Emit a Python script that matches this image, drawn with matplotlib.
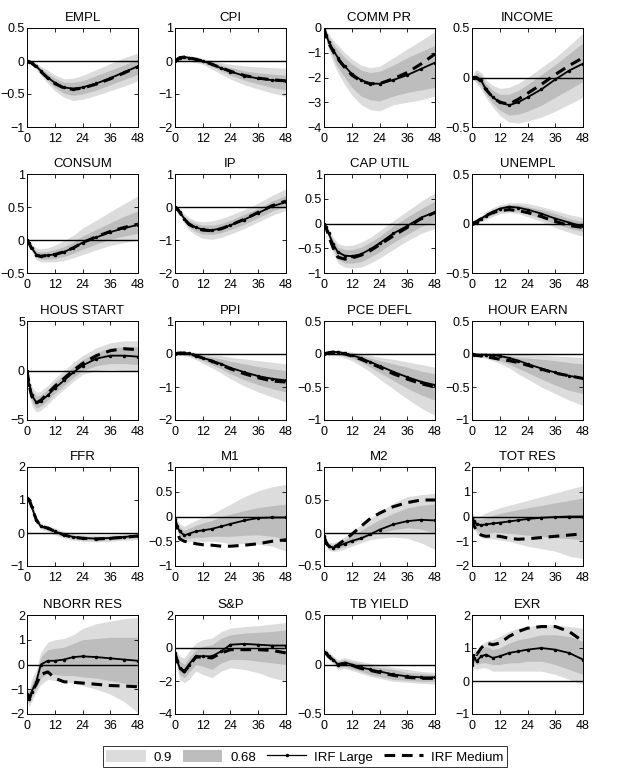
import numpy as np
import matplotlib
matplotlib.use("Agg")
import matplotlib.pyplot as plt
from matplotlib.patches import Patch
from matplotlib.lines import Line2D
from matplotlib.ticker import FuncFormatter

plt.rcParams['font.family'] = ['Liberation Sans', 'DejaVu Sans']

horizon = [0, 1, 2, 4, 6, 9, 12, 16, 20, 24, 30, 36, 42, 48]

names = ["EMPL", "CPI", "COMM PR", "INCOME",
         "CONSUM", "IP", "CAP UTIL", "UNEMPL",
         "HOUS START", "PPI", "PCE DEFL", "HOUR EARN",
         "FFR", "M1", "M2", "TOT RES",
         "NBORR RES", "S&P", "TB YIELD", "EXR"]

ylims = {
    "EMPL": (-1, 0.5), "CPI": (-2, 1), "COMM PR": (-4, 0), "INCOME": (-0.5, 0.5),
    "CONSUM": (-0.5, 1), "IP": (-2, 1), "CAP UTIL": (-1, 1), "UNEMPL": (-0.5, 0.5),
    "HOUS START": (-5, 5), "PPI": (-2, 1), "PCE DEFL": (-1, 0.5), "HOUR EARN": (-1, 0.5),
    "FFR": (-1, 2), "M1": (-1, 1), "M2": (-0.5, 1), "TOT RES": (-2, 2),
    "NBORR RES": (-2, 2), "S&P": (-4, 2), "TB YIELD": (-0.5, 0.5), "EXR": (-1, 2),
}

yticks = {
    "EMPL": [-1, -0.5, 0, 0.5], "CPI": [-2, -1, 0, 1], "COMM PR": [-4, -3, -2, -1, 0],
    "INCOME": [-0.5, 0, 0.5], "CONSUM": [-0.5, 0, 0.5, 1], "IP": [-2, -1, 0, 1],
    "CAP UTIL": [-1, -0.5, 0, 0.5, 1], "UNEMPL": [-0.5, 0, 0.5], "HOUS START": [-5, 0, 5],
    "PPI": [-2, -1, 0, 1], "PCE DEFL": [-1, -0.5, 0, 0.5], "HOUR EARN": [-1, -0.5, 0, 0.5],
    "FFR": [-1, 0, 1, 2], "M1": [-1, -0.5, 0, 0.5, 1], "M2": [-0.5, 0, 0.5, 1],
    "TOT RES": [-2, -1, 0, 1, 2], "NBORR RES": [-2, -1, 0, 1, 2], "S&P": [-4, -2, 0, 2],
    "TB YIELD": [-0.5, 0, 0.5], "EXR": [-1, 0, 1, 2],
}

irf_large = {
    "EMPL": [0, -0.01, -0.03, -0.08, -0.15, -0.25, -0.33, -0.40, -0.42, -0.40, -0.34, -0.26, -0.17, -0.08],
    "CPI": [0, 0.05, 0.1, 0.12, 0.1, 0.05, 0, -0.1, -0.22, -0.32, -0.45, -0.53, -0.58, -0.62],
    "COMM PR": [0, -0.3, -0.55, -0.9, -1.2, -1.55, -1.85, -2.1, -2.25, -2.25, -2.1, -1.9, -1.65, -1.4],
    "INCOME": [0, 0, 0, -0.03, -0.12, -0.2, -0.25, -0.28, -0.25, -0.2, -0.12, -0.02, 0.07, 0.14],
    "CONSUM": [0, -0.05, -0.12, -0.22, -0.24, -0.23, -0.22, -0.18, -0.12, -0.04, 0.04, 0.12, 0.18, 0.23],
    "IP": [0, -0.05, -0.15, -0.35, -0.5, -0.62, -0.68, -0.7, -0.65, -0.55, -0.38, -0.18, 0.02, 0.15],
    "CAP UTIL": [0, -0.08, -0.2, -0.42, -0.58, -0.65, -0.66, -0.62, -0.52, -0.4, -0.2, -0.05, 0.12, 0.23],
    "UNEMPL": [0, 0.01, 0.02, 0.05, 0.08, 0.12, 0.15, 0.17, 0.16, 0.14, 0.1, 0.05, 0.01, -0.03],
    "HOUS START": [0, -1.5, -2.5, -3.2, -3.1, -2.5, -1.8, -1.0, -0.2, 0.5, 1.2, 1.5, 1.5, 1.4],
    "PPI": [0, 0.02, 0.03, 0.03, 0.02, -0.05, -0.12, -0.2, -0.3, -0.42, -0.55, -0.67, -0.75, -0.8],
    "PCE DEFL": [0, 0.01, 0.02, 0.03, 0.03, 0.01, -0.02, -0.06, -0.12, -0.18, -0.27, -0.35, -0.42, -0.47],
    "HOUR EARN": [0, -0.01, -0.01, -0.01, -0.01, -0.02, -0.03, -0.06, -0.1, -0.15, -0.22, -0.28, -0.33, -0.37],
    "FFR": [1.05, 1.0, 0.8, 0.4, 0.2, 0.15, 0.05, -0.05, -0.12, -0.15, -0.17, -0.15, -0.12, -0.08],
    "M1": [-0.05, -0.2, -0.3, -0.38, -0.35, -0.3, -0.28, -0.25, -0.2, -0.15, -0.08, -0.03, -0.02, -0.02],
    "M2": [-0.05, -0.15, -0.2, -0.22, -0.2, -0.16, -0.12, -0.08, -0.02, 0.05, 0.13, 0.18, 0.2, 0.19],
    "TOT RES": [-0.05, -0.2, -0.3, -0.35, -0.32, -0.28, -0.25, -0.2, -0.15, -0.1, -0.05, -0.02, 0.0, 0.0],
    "NBORR RES": [-1.2, -1.4, -1.1, -0.7, 0.0, 0.15, 0.15, 0.2, 0.3, 0.33, 0.3, 0.25, 0.2, 0.15],
    "S&P": [-0.3, -0.8, -1.2, -1.4, -1.0, -0.5, -0.5, -0.5, -0.2, 0.2, 0.25, 0.2, 0.15, 0.15],
    "TB YIELD": [0.13, 0.12, 0.09, 0.05, 0.0, 0.02, 0.0, -0.03, -0.05, -0.07, -0.1, -0.12, -0.13, -0.13],
    "EXR": [0.5, 0.7, 0.6, 0.75, 0.8, 0.7, 0.75, 0.85, 0.9, 0.95, 1.0, 0.95, 0.85, 0.65],
}

irf_medium = {
    "EMPL": [0, -0.01, -0.03, -0.09, -0.16, -0.26, -0.34, -0.41, -0.43, -0.41, -0.35, -0.27, -0.18, -0.09],
    "CPI": [0, 0.05, 0.1, 0.12, 0.1, 0.05, 0, -0.1, -0.21, -0.31, -0.44, -0.52, -0.57, -0.6],
    "COMM PR": [0, -0.35, -0.6, -0.95, -1.25, -1.6, -1.9, -2.15, -2.25, -2.25, -2.05, -1.8, -1.45, -1.05],
    "INCOME": [0, 0, 0, -0.04, -0.12, -0.2, -0.25, -0.27, -0.22, -0.16, -0.07, 0.03, 0.12, 0.2],
    "CONSUM": [0, -0.06, -0.13, -0.23, -0.25, -0.23, -0.22, -0.18, -0.12, -0.04, 0.05, 0.13, 0.19, 0.24],
    "IP": [0, -0.05, -0.16, -0.37, -0.52, -0.64, -0.7, -0.72, -0.66, -0.55, -0.37, -0.16, 0.04, 0.18],
    "CAP UTIL": [0, -0.1, -0.25, -0.5, -0.68, -0.72, -0.7, -0.64, -0.55, -0.43, -0.25, -0.08, 0.1, 0.22],
    "UNEMPL": [0, 0.01, 0.02, 0.05, 0.08, 0.11, 0.13, 0.14, 0.13, 0.11, 0.07, 0.02, -0.02, -0.04],
    "HOUS START": [0, -1.5, -2.6, -3.3, -3.0, -2.3, -1.6, -0.8, 0.0, 0.7, 1.5, 2.0, 2.2, 2.1],
    "PPI": [0, 0.02, 0.03, 0.03, 0.02, -0.05, -0.12, -0.22, -0.33, -0.45, -0.6, -0.72, -0.82, -0.85],
    "PCE DEFL": [0, 0.01, 0.02, 0.03, 0.02, 0.0, -0.03, -0.08, -0.14, -0.2, -0.3, -0.38, -0.45, -0.5],
    "HOUR EARN": [0, -0.01, -0.02, -0.03, -0.04, -0.06, -0.08, -0.1, -0.13, -0.17, -0.23, -0.29, -0.33, -0.37],
    "FFR": [1.05, 1.0, 0.8, 0.4, 0.2, 0.15, 0.05, -0.06, -0.13, -0.16, -0.18, -0.16, -0.13, -0.09],
    "M1": [-0.05, -0.3, -0.45, -0.5, -0.52, -0.55, -0.57, -0.58, -0.6, -0.6, -0.58, -0.55, -0.5, -0.47],
    "M2": [-0.05, -0.15, -0.2, -0.22, -0.18, -0.1, -0.02, 0.1, 0.22, 0.3, 0.4, 0.46, 0.5, 0.5],
    "TOT RES": [-0.1, -0.4, -0.6, -0.75, -0.8, -0.78, -0.8, -0.88, -0.92, -0.9, -0.85, -0.8, -0.75, -0.7],
    "NBORR RES": [-1.2, -1.4, -1.1, -0.8, -0.4, -0.3, -0.55, -0.7, -0.72, -0.75, -0.8, -0.85, -0.87, -0.9],
    "S&P": [-0.3, -0.8, -1.2, -1.45, -1.1, -0.55, -0.55, -0.6, -0.3, -0.1, -0.1, -0.1, -0.15, -0.3],
    "TB YIELD": [0.12, 0.11, 0.08, 0.04, 0.0, 0.01, -0.01, -0.04, -0.06, -0.08, -0.11, -0.13, -0.14, -0.14],
    "EXR": [0.5, 0.9, 0.8, 1.0, 1.15, 1.1, 1.15, 1.35, 1.5, 1.6, 1.65, 1.65, 1.5, 1.2],
}

band90_lo = {
    "EMPL": [0, -0.03, -0.06, -0.13, -0.22, -0.34, -0.45, -0.55, -0.6, -0.58, -0.52, -0.45, -0.38, -0.3],
    "CPI": [0, 0.0, 0.02, 0.03, 0.0, -0.05, -0.1, -0.25, -0.4, -0.55, -0.72, -0.85, -0.97, -1.07],
    "COMM PR": [0, -0.5, -0.9, -1.4, -1.8, -2.3, -2.7, -3.1, -3.3, -3.35, -3.1, -3.0, -2.9, -2.75],
    "INCOME": [0, -0.03, -0.06, -0.12, -0.2, -0.3, -0.38, -0.45, -0.46, -0.44, -0.4, -0.34, -0.27, -0.2],
    "CONSUM": [0, -0.08, -0.17, -0.3, -0.33, -0.33, -0.33, -0.31, -0.27, -0.22, -0.15, -0.08, -0.04, 0.0],
    "IP": [0, -0.1, -0.25, -0.5, -0.7, -0.85, -0.95, -0.98, -0.92, -0.82, -0.65, -0.45, -0.25, -0.1],
    "CAP UTIL": [0, -0.15, -0.3, -0.6, -0.8, -0.88, -0.9, -0.88, -0.8, -0.7, -0.52, -0.35, -0.2, -0.1],
    "UNEMPL": [0, -0.01, 0.0, 0.02, 0.04, 0.07, 0.1, 0.11, 0.1, 0.07, 0.02, -0.04, -0.09, -0.13],
    "HOUS START": [0, -2.3, -3.5, -4.2, -4.0, -3.4, -2.7, -1.9, -1.1, -0.4, 0.0, 0.1, 0.0, -0.1],
    "PPI": [0, -0.02, -0.03, -0.05, -0.08, -0.17, -0.28, -0.42, -0.58, -0.75, -0.97, -1.15, -1.3, -1.45],
    "PCE DEFL": [0, -0.01, -0.01, -0.02, -0.03, -0.06, -0.1, -0.18, -0.27, -0.38, -0.53, -0.68, -0.82, -0.93],
    "HOUR EARN": [0, -0.02, -0.03, -0.05, -0.07, -0.1, -0.14, -0.21, -0.3, -0.38, -0.5, -0.6, -0.7, -0.78],
    "FFR": [0.95, 0.85, 0.65, 0.3, 0.12, 0.05, -0.05, -0.15, -0.22, -0.25, -0.27, -0.25, -0.22, -0.2],
    "M1": [-0.1, -0.3, -0.42, -0.5, -0.5, -0.5, -0.5, -0.5, -0.52, -0.55, -0.55, -0.56, -0.6, -0.7],
    "M2": [-0.08, -0.2, -0.26, -0.28, -0.27, -0.24, -0.2, -0.15, -0.1, -0.08, -0.06, -0.08, -0.15, -0.25],
    "TOT RES": [-0.2, -0.5, -0.7, -0.85, -0.9, -0.9, -0.95, -1.0, -1.1, -1.2, -1.3, -1.4, -1.6, -1.7],
    "NBORR RES": [-1.5, -1.7, -1.5, -1.1, -0.8, -0.6, -0.65, -0.7, -0.75, -0.85, -1.0, -1.2, -1.5, -1.95],
    "S&P": [-0.6, -1.3, -1.9, -2.1, -1.9, -1.4, -1.6, -1.8, -1.4, -1.2, -1.3, -1.5, -1.8, -2.0],
    "TB YIELD": [0.1, 0.08, 0.05, 0.0, -0.05, -0.04, -0.06, -0.09, -0.12, -0.14, -0.17, -0.18, -0.19, -0.2],
    "EXR": [0.3, 0.4, 0.35, 0.4, 0.4, 0.3, 0.3, 0.3, 0.3, 0.3, 0.3, 0.2, 0.05, -0.1],
}

band90_hi = {
    "EMPL": [0, 0.01, 0.01, -0.03, -0.08, -0.14, -0.21, -0.27, -0.26, -0.22, -0.13, -0.04, 0.05, 0.12],
    "CPI": [0, 0.1, 0.15, 0.17, 0.16, 0.12, 0.08, 0.02, -0.05, -0.1, -0.15, -0.18, -0.2, -0.22],
    "COMM PR": [0, -0.1, -0.25, -0.5, -0.7, -1.0, -1.25, -1.5, -1.6, -1.55, -1.2, -0.85, -0.5, -0.15],
    "INCOME": [0, 0.06, 0.08, 0.05, -0.02, -0.08, -0.11, -0.1, -0.06, 0.0, 0.1, 0.2, 0.32, 0.45],
    "CONSUM": [0, -0.02, -0.06, -0.12, -0.13, -0.12, -0.08, -0.01, 0.07, 0.18, 0.3, 0.43, 0.55, 0.67],
    "IP": [0, 0.0, -0.05, -0.2, -0.32, -0.42, -0.45, -0.42, -0.35, -0.25, -0.08, 0.12, 0.35, 0.55],
    "CAP UTIL": [0, -0.02, -0.1, -0.28, -0.4, -0.45, -0.44, -0.38, -0.28, -0.15, 0.06, 0.25, 0.45, 0.62],
    "UNEMPL": [0, 0.02, 0.04, 0.08, 0.12, 0.16, 0.19, 0.21, 0.21, 0.2, 0.17, 0.13, 0.09, 0.06],
    "HOUS START": [0, -0.8, -1.6, -2.2, -2.1, -1.5, -0.8, 0.0, 0.8, 1.5, 2.3, 2.8, 3.0, 3.0],
    "PPI": [0, 0.05, 0.07, 0.08, 0.08, 0.05, 0.02, -0.02, -0.05, -0.1, -0.15, -0.2, -0.25, -0.3],
    "PCE DEFL": [0, 0.03, 0.04, 0.05, 0.06, 0.05, 0.03, 0.0, -0.02, -0.05, -0.08, -0.12, -0.16, -0.2],
    "HOUR EARN": [0, 0.01, 0.01, 0.01, 0.02, 0.02, 0.02, 0.01, 0.0, -0.01, -0.02, -0.03, -0.04, -0.05],
    "FFR": [1.15, 1.1, 0.95, 0.5, 0.3, 0.22, 0.15, 0.05, -0.02, -0.05, -0.06, -0.05, -0.02, 0.02],
    "M1": [0.0, -0.08, -0.15, -0.2, -0.15, -0.08, -0.02, 0.05, 0.15, 0.25, 0.4, 0.52, 0.6, 0.65],
    "M2": [-0.02, -0.1, -0.14, -0.15, -0.12, -0.06, 0.02, 0.12, 0.22, 0.32, 0.45, 0.55, 0.58, 0.6],
    "TOT RES": [0.15, 0.05, 0.0, 0.05, 0.15, 0.25, 0.35, 0.45, 0.55, 0.65, 0.8, 0.95, 1.1, 1.25],
    "NBORR RES": [-0.9, -1.0, -0.6, -0.2, 0.5, 0.9, 1.0, 1.05, 1.2, 1.45, 1.65, 1.75, 1.85, 1.9],
    "S&P": [0.0, -0.3, -0.5, -0.6, -0.2, 0.3, 0.5, 0.6, 1.0, 1.2, 1.3, 1.35, 1.45, 1.55],
    "TB YIELD": [0.16, 0.15, 0.13, 0.09, 0.05, 0.07, 0.05, 0.03, 0.01, 0.0, -0.03, -0.05, -0.07, -0.08],
    "EXR": [0.7, 1.0, 0.9, 1.1, 1.2, 1.25, 1.35, 1.5, 1.6, 1.65, 1.7, 1.7, 1.65, 1.6],
}

band68_lo = {
    "EMPL": [0, -0.02, -0.05, -0.11, -0.19, -0.3, -0.4, -0.49, -0.52, -0.5, -0.44, -0.36, -0.28, -0.2],
    "CPI": [0, 0.02, 0.05, 0.06, 0.04, 0.0, -0.05, -0.17, -0.3, -0.43, -0.58, -0.7, -0.8, -0.88],
    "COMM PR": [0, -0.4, -0.75, -1.2, -1.6, -2.0, -2.4, -2.75, -2.9, -2.95, -2.75, -2.6, -2.5, -2.4],
    "INCOME": [0, -0.02, -0.04, -0.09, -0.17, -0.26, -0.33, -0.38, -0.37, -0.34, -0.28, -0.2, -0.12, -0.04],
    "CONSUM": [0, -0.07, -0.14, -0.26, -0.29, -0.29, -0.28, -0.25, -0.2, -0.14, -0.06, 0.01, 0.06, 0.1],
    "IP": [0, -0.08, -0.2, -0.42, -0.6, -0.75, -0.82, -0.83, -0.78, -0.68, -0.52, -0.32, -0.12, 0.02],
    "CAP UTIL": [0, -0.12, -0.26, -0.52, -0.72, -0.8, -0.8, -0.77, -0.68, -0.57, -0.38, -0.22, -0.06, 0.04],
    "UNEMPL": [0, 0.0, 0.01, 0.03, 0.06, 0.09, 0.12, 0.13, 0.12, 0.1, 0.05, 0.0, -0.05, -0.08],
    "HOUS START": [0, -2.0, -3.1, -3.8, -3.6, -3.0, -2.3, -1.5, -0.7, 0.0, 0.5, 0.7, 0.7, 0.6],
    "PPI": [0, -0.01, -0.01, -0.02, -0.04, -0.12, -0.2, -0.32, -0.45, -0.6, -0.78, -0.93, -1.05, -1.15],
    "PCE DEFL": [0, 0.0, 0.0, 0.0, -0.01, -0.03, -0.06, -0.12, -0.2, -0.28, -0.4, -0.52, -0.62, -0.7],
    "HOUR EARN": [0, -0.02, -0.02, -0.04, -0.05, -0.07, -0.1, -0.15, -0.22, -0.28, -0.38, -0.47, -0.55, -0.6],
    "FFR": [0.98, 0.9, 0.7, 0.34, 0.15, 0.09, 0.0, -0.1, -0.17, -0.2, -0.22, -0.2, -0.17, -0.14],
    "M1": [-0.08, -0.26, -0.38, -0.45, -0.44, -0.42, -0.42, -0.4, -0.4, -0.4, -0.38, -0.37, -0.4, -0.45],
    "M2": [-0.07, -0.18, -0.24, -0.26, -0.24, -0.2, -0.16, -0.1, -0.04, 0.0, 0.05, 0.08, 0.06, 0.0],
    "TOT RES": [-0.15, -0.4, -0.55, -0.65, -0.68, -0.65, -0.65, -0.68, -0.72, -0.75, -0.8, -0.85, -0.9, -0.95],
    "NBORR RES": [-1.4, -1.55, -1.3, -0.95, -0.55, -0.35, -0.4, -0.45, -0.45, -0.5, -0.55, -0.65, -0.75, -0.85],
    "S&P": [-0.5, -1.1, -1.6, -1.8, -1.5, -1.0, -1.1, -1.3, -0.9, -0.7, -0.7, -0.8, -0.9, -1.0],
    "TB YIELD": [0.11, 0.1, 0.07, 0.02, -0.03, -0.02, -0.04, -0.07, -0.1, -0.12, -0.15, -0.16, -0.17, -0.17],
    "EXR": [0.4, 0.55, 0.5, 0.55, 0.55, 0.5, 0.5, 0.55, 0.55, 0.6, 0.6, 0.5, 0.35, 0.2],
}

band68_hi = {
    "EMPL": [0, 0.0, -0.01, -0.05, -0.11, -0.19, -0.26, -0.32, -0.32, -0.3, -0.22, -0.14, -0.06, 0.03],
    "CPI": [0, 0.08, 0.13, 0.15, 0.14, 0.1, 0.05, -0.03, -0.12, -0.2, -0.3, -0.36, -0.4, -0.43],
    "COMM PR": [0, -0.2, -0.35, -0.65, -0.9, -1.2, -1.45, -1.7, -1.8, -1.75, -1.5, -1.2, -0.95, -0.7],
    "INCOME": [0, 0.03, 0.05, 0.02, -0.06, -0.13, -0.17, -0.17, -0.13, -0.07, 0.03, 0.13, 0.24, 0.35],
    "CONSUM": [0, -0.03, -0.09, -0.17, -0.18, -0.17, -0.15, -0.1, -0.03, 0.06, 0.16, 0.26, 0.36, 0.44],
    "IP": [0, -0.02, -0.1, -0.28, -0.4, -0.5, -0.55, -0.55, -0.5, -0.4, -0.22, -0.03, 0.18, 0.35],
    "CAP UTIL": [0, -0.04, -0.15, -0.34, -0.48, -0.53, -0.53, -0.48, -0.38, -0.26, -0.05, 0.13, 0.3, 0.45],
    "UNEMPL": [0, 0.02, 0.03, 0.07, 0.1, 0.14, 0.17, 0.19, 0.19, 0.17, 0.14, 0.1, 0.05, 0.02],
    "HOUS START": [0, -1.1, -2.0, -2.6, -2.5, -1.9, -1.2, -0.4, 0.4, 1.1, 1.8, 2.3, 2.4, 2.4],
    "PPI": [0, 0.04, 0.05, 0.06, 0.05, 0.01, -0.04, -0.1, -0.15, -0.22, -0.3, -0.38, -0.45, -0.5],
    "PCE DEFL": [0, 0.02, 0.03, 0.04, 0.05, 0.03, 0.01, -0.02, -0.06, -0.1, -0.15, -0.2, -0.26, -0.3],
    "HOUR EARN": [0, 0.0, 0.0, 0.0, 0.0, 0.0, -0.01, -0.03, -0.05, -0.06, -0.08, -0.1, -0.13, -0.15],
    "FFR": [1.1, 1.05, 0.9, 0.46, 0.26, 0.19, 0.1, 0.0, -0.07, -0.1, -0.12, -0.1, -0.07, -0.03],
    "M1": [-0.02, -0.14, -0.22, -0.28, -0.24, -0.18, -0.13, -0.08, 0.0, 0.05, 0.12, 0.18, 0.22, 0.25],
    "M2": [-0.03, -0.12, -0.16, -0.18, -0.15, -0.1, -0.04, 0.04, 0.12, 0.2, 0.3, 0.38, 0.42, 0.44],
    "TOT RES": [0.05, -0.05, -0.1, -0.1, -0.05, 0.05, 0.12, 0.2, 0.28, 0.35, 0.45, 0.55, 0.65, 0.75],
    "NBORR RES": [-1.0, -1.1, -0.8, -0.4, 0.3, 0.6, 0.65, 0.7, 0.85, 1.0, 1.05, 1.1, 1.1, 1.1],
    "S&P": [-0.1, -0.5, -0.8, -1.0, -0.6, -0.1, 0.1, 0.2, 0.6, 0.8, 0.9, 0.95, 1.0, 1.1],
    "TB YIELD": [0.15, 0.14, 0.11, 0.07, 0.03, 0.05, 0.03, 0.01, -0.01, -0.03, -0.05, -0.08, -0.09, -0.1],
    "EXR": [0.6, 0.85, 0.75, 0.95, 1.05, 0.95, 1.0, 1.15, 1.25, 1.3, 1.4, 1.4, 1.35, 1.2],
}

light = '#dcdcdc'
dark = '#bdbdbd'

W, H = 621, 771
fig = plt.figure(figsize=(W / 100, H / 100), dpi=100)

col_left = [27, 175, 324, 472]
row_top = [28, 174, 321, 467, 615]
ax_w, ax_h = 111, 99

fmt = FuncFormatter(lambda v, p: f"{v:g}".replace('-', '\u2212'))

for i, name in enumerate(names):
    r, c = divmod(i, 4)
    x0 = col_left[c] / W
    y0 = 1 - (row_top[r] + ax_h) / H
    ax = fig.add_axes([x0, y0, ax_w / W, ax_h / H])

    ax.fill_between(horizon, band90_lo[name], band90_hi[name], color=light, lw=0)
    ax.fill_between(horizon, band68_lo[name], band68_hi[name], color=dark, lw=0)
    ax.axhline(0, color='black', lw=1.0)
    ax.plot(horizon, irf_medium[name], color='black', lw=2.2, ls=(0, (3.5, 2.2)))
    ax.plot(horizon, irf_large[name], color='black', lw=1.3, marker='.', ms=3)

    ax.set_xlim(0, 48)
    ax.set_ylim(*ylims[name])
    ax.set_xticks([0, 12, 24, 36, 48])
    ax.set_yticks(yticks[name])
    ax.yaxis.set_major_formatter(fmt)
    ax.tick_params(direction='in', length=3, width=0.6, labelsize=9,
                   top=True, right=True)
    ax.tick_params(axis='x', pad=4)
    ax.tick_params(axis='y', pad=1.5)
    for s in ax.spines.values():
        s.set_linewidth(0.7)
    ax.set_title(name, fontsize=9.5, pad=5)

handles = [
    Patch(facecolor=light, edgecolor='none', label='0.9'),
    Patch(facecolor=dark, edgecolor='none', label='0.68'),
    Line2D([], [], color='black', lw=0.9, marker='.', ms=3, markevery=[1], label='IRF Large'),
    Line2D([], [], color='black', lw=2.2, ls=(0, (3.5, 2.2)), label='IRF Medium'),
]
leg = fig.legend(handles=handles, loc='lower center', bbox_to_anchor=(305 / W, -0.004),
                 ncol=4, fontsize=9.5, frameon=True, fancybox=False,
                 edgecolor='black', handlelength=3.0, handleheight=1.1,
                 columnspacing=0.8, handletextpad=0.6, borderpad=0.3)
leg.get_frame().set_linewidth(0.7)

fig.savefig('out.png', dpi=100)
